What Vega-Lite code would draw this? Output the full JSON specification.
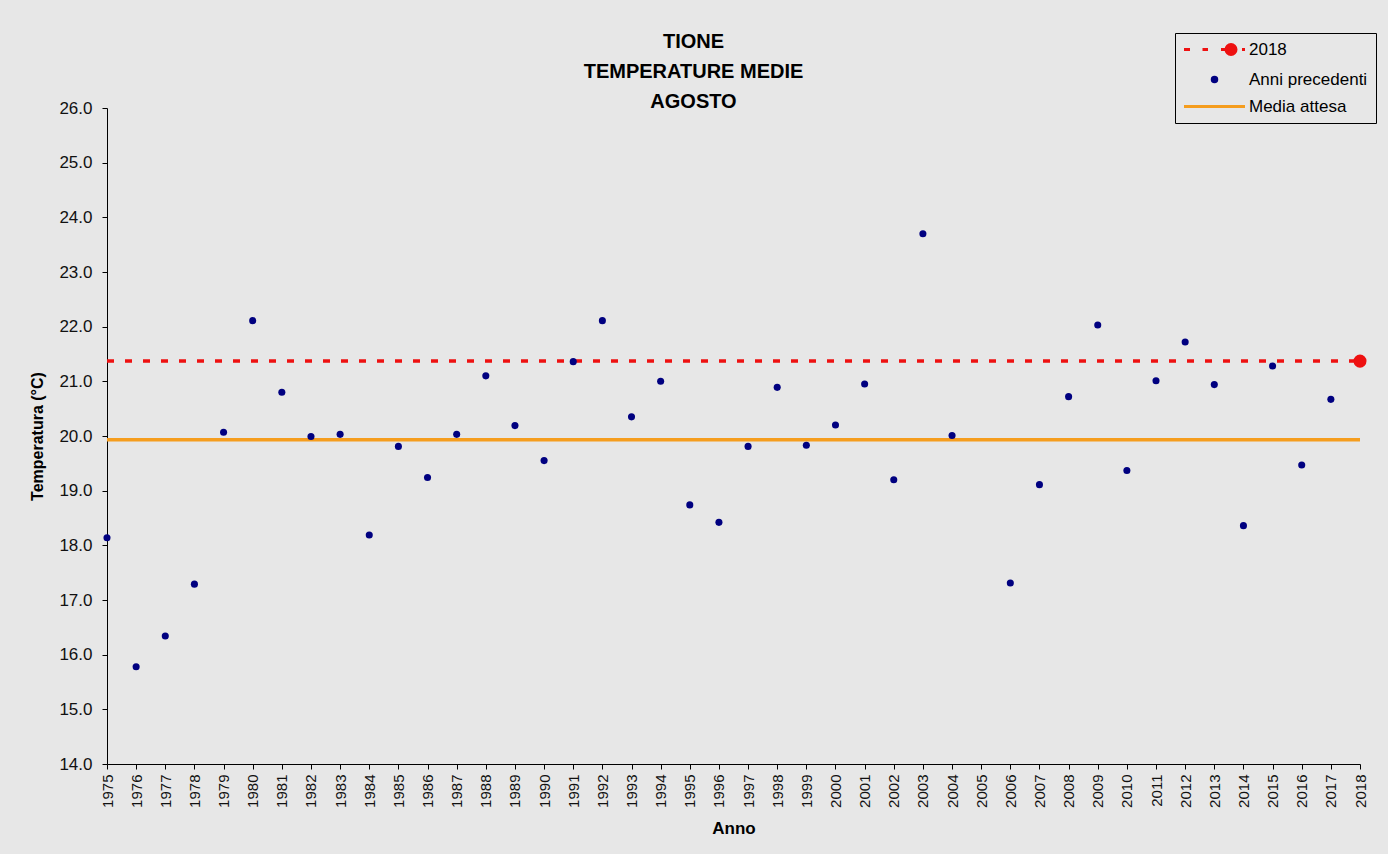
{
  "$schema": "https://vega.github.io/schema/vega-lite/v6.json",
  "width": 1253,
  "height": 656,
  "autosize": {"type": "none"},
  "padding": {"left": 107, "top": 108, "right": 28, "bottom": 90},
  "background": "#e7e7e7",
  "config": {"view": {"stroke": null}, "font": "Liberation Sans"},
  "title": {
    "text": ["TIONE", "TEMPERATURE MEDIE", "AGOSTO"],
    "fontSize": 20,
    "fontWeight": "bold",
    "lineHeight": 30,
    "anchor": "middle",
    "dx": -40,
    "dy": 81,
    "offset": 2,
    "color": "#000000",
    "font": "Liberation Sans"
  },
  "datasets": {
    "obs": [
      {"year": 1975, "temp": 18.14, "series": "Anni precedenti"},
      {"year": 1976, "temp": 15.78, "series": "Anni precedenti"},
      {"year": 1977, "temp": 16.34, "series": "Anni precedenti"},
      {"year": 1978, "temp": 17.29, "series": "Anni precedenti"},
      {"year": 1979, "temp": 20.07, "series": "Anni precedenti"},
      {"year": 1980, "temp": 22.11, "series": "Anni precedenti"},
      {"year": 1981, "temp": 20.80, "series": "Anni precedenti"},
      {"year": 1982, "temp": 19.99, "series": "Anni precedenti"},
      {"year": 1983, "temp": 20.03, "series": "Anni precedenti"},
      {"year": 1984, "temp": 18.19, "series": "Anni precedenti"},
      {"year": 1985, "temp": 19.81, "series": "Anni precedenti"},
      {"year": 1986, "temp": 19.24, "series": "Anni precedenti"},
      {"year": 1987, "temp": 20.03, "series": "Anni precedenti"},
      {"year": 1988, "temp": 21.10, "series": "Anni precedenti"},
      {"year": 1989, "temp": 20.19, "series": "Anni precedenti"},
      {"year": 1990, "temp": 19.55, "series": "Anni precedenti"},
      {"year": 1991, "temp": 21.36, "series": "Anni precedenti"},
      {"year": 1992, "temp": 22.11, "series": "Anni precedenti"},
      {"year": 1993, "temp": 20.35, "series": "Anni precedenti"},
      {"year": 1994, "temp": 21.00, "series": "Anni precedenti"},
      {"year": 1995, "temp": 18.74, "series": "Anni precedenti"},
      {"year": 1996, "temp": 18.42, "series": "Anni precedenti"},
      {"year": 1997, "temp": 19.81, "series": "Anni precedenti"},
      {"year": 1998, "temp": 20.89, "series": "Anni precedenti"},
      {"year": 1999, "temp": 19.83, "series": "Anni precedenti"},
      {"year": 2000, "temp": 20.20, "series": "Anni precedenti"},
      {"year": 2001, "temp": 20.95, "series": "Anni precedenti"},
      {"year": 2002, "temp": 19.20, "series": "Anni precedenti"},
      {"year": 2003, "temp": 23.70, "series": "Anni precedenti"},
      {"year": 2004, "temp": 20.01, "series": "Anni precedenti"},
      {"year": 2006, "temp": 17.31, "series": "Anni precedenti"},
      {"year": 2007, "temp": 19.11, "series": "Anni precedenti"},
      {"year": 2008, "temp": 20.72, "series": "Anni precedenti"},
      {"year": 2009, "temp": 22.03, "series": "Anni precedenti"},
      {"year": 2010, "temp": 19.37, "series": "Anni precedenti"},
      {"year": 2011, "temp": 21.01, "series": "Anni precedenti"},
      {"year": 2012, "temp": 21.72, "series": "Anni precedenti"},
      {"year": 2013, "temp": 20.94, "series": "Anni precedenti"},
      {"year": 2014, "temp": 18.36, "series": "Anni precedenti"},
      {"year": 2015, "temp": 21.28, "series": "Anni precedenti"},
      {"year": 2016, "temp": 19.47, "series": "Anni precedenti"},
      {"year": 2017, "temp": 20.67, "series": "Anni precedenti"},
      {"year": 2018, "temp": 21.37, "series": "2018"}
    ],
    "refs": [
      {"year": 1975, "year_end": 2018, "temp": 21.37, "series": "2018"},
      {"year": 1975, "year_end": 2018, "temp": 19.93, "series": "Media attesa"}
    ]
  },
  "encoding": {
    "x": {
      "field": "year",
      "type": "quantitative",
      "scale": {"domain": [1975, 2018], "nice": false, "zero": false},
      "axis": {
        "title": "Anno",
        "tickCount": 43,
        "format": "d",
        "labelAngle": 270,
        "labelAlign": "right",
        "labelBaseline": "middle",
        "labelFontSize": 15,
        "labelColor": "#111111",
        "labelPadding": 5,
        "labelOverlap": false,
        "labelFlush": false,
        "tickSize": 5,
        "tickColor": "#000000",
        "domainColor": "#000000",
        "grid": false,
        "titleFontSize": 17,
        "titleFontWeight": "bold",
        "titleColor": "#000000",
        "titlePadding": 13
      }
    },
    "y": {
      "field": "temp",
      "type": "quantitative",
      "scale": {"domain": [14, 26], "nice": false, "zero": false},
      "axis": {
        "title": "Temperatura (°C)",
        "values": [14, 15, 16, 17, 18, 19, 20, 21, 22, 23, 24, 25, 26],
        "format": ".1f",
        "labelFontSize": 17,
        "labelColor": "#111111",
        "labelPadding": 10,
        "labelOverlap": false,
        "tickSize": 5,
        "tickColor": "#000000",
        "domainColor": "#000000",
        "grid": false,
        "titleFontSize": 16,
        "titleFontWeight": "bold",
        "titleColor": "#000000",
        "titlePadding": 13
      }
    }
  },
  "layer": [
    {
      "data": {"name": "refs"},
      "transform": [{"filter": "datum.series === 'Media attesa'"}],
      "mark": {"type": "rule", "color": "#f59d1e", "strokeWidth": 3.5},
      "encoding": {"x2": {"field": "year_end"}}
    },
    {
      "data": {"name": "refs"},
      "transform": [{"filter": "datum.series === '2018'"}],
      "mark": {"type": "rule", "color": "#ee1111", "strokeWidth": 3.5, "strokeDash": [7, 11]},
      "encoding": {"x2": {"field": "year_end"}}
    },
    {
      "data": {"name": "obs"},
      "transform": [{"filter": "datum.series === 'Anni precedenti'"}],
      "mark": {"type": "point", "filled": true, "shape": "circle", "size": 50, "opacity": 1, "color": "#000080"},
      "encoding": {}
    },
    {
      "data": {"name": "obs"},
      "transform": [{"filter": "datum.series === '2018'"}],
      "mark": {"type": "point", "filled": true, "shape": "circle", "size": 170, "opacity": 1, "color": "#ee1111"},
      "encoding": {}
    },
    {
      "data": {"name": "obs"},
      "transform": [{"filter": "false"}],
      "mark": {"type": "point", "filled": true, "opacity": 1, "strokeWidth": 3},
      "encoding": {
        "fill": {
          "field": "series",
          "type": "nominal",
          "scale": {"domain": ["2018", "Anni precedenti", "Media attesa"], "range": ["#ee1111", "#000080", "#f59d1e"]},
          "legend": {
            "title": null,
            "orient": "none",
            "legendX": 1068,
            "legendY": -75,
            "strokeColor": "#000000",
            "padding": 8,
            "symbolSize": 100,
            "symbolStrokeWidth": 3,
            "symbolOffset": 23,
            "labelOffset": 26,
            "labelFontSize": 17,
            "labelColor": "#000000",
            "labelFont": "Liberation Sans",
            "rowPadding": 9
          }
        },
        "stroke": {
          "field": "series",
          "type": "nominal",
          "scale": {"domain": ["2018", "Anni precedenti", "Media attesa"], "range": ["#ee1111", "#000080", "#f59d1e"]}
        },
        "shape": {
          "field": "series",
          "type": "nominal",
          "scale": {
            "domain": ["2018", "Anni precedenti", "Media attesa"],
            "range": [
              "M-6.1,0L-4.9,0M-2.4,0L-1.3,0M1.3,0L2.3,0M5.5,0L6.1,0M2.3,0A1,1 0 1,0 4.3,0A1,1 0 1,0 2.3,0Z",
              "M-0.45,0A0.45,0.45 0 1,0 0.45,0A0.45,0.45 0 1,0 -0.45,0Z",
              "M-6.1,0L6.1,0"
            ]
          }
        }
      }
    }
  ]
}
